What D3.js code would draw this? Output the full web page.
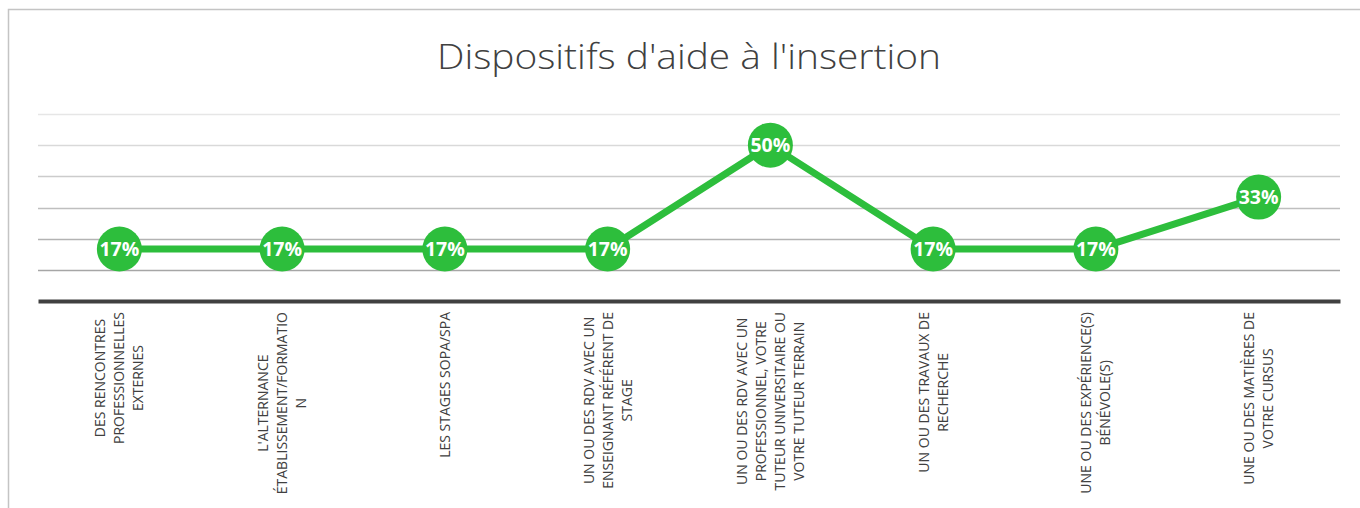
<!DOCTYPE html>
<html><head><meta charset="utf-8">
<script src="https://cdn.jsdelivr.net/npm/d3@7"></script>
<style>body{margin:0;background:#fff;}svg{display:block;font-family:"Open Sans",sans-serif;}</style>
</head><body>
<svg id="c" width="1360" height="508"></svg>
<script>
const title = "Dispositifs d'aide à l'insertion";
const categories = [
  "DES RENCONTRES\nPROFESSIONNELLES\nEXTERNES",
  "L'ALTERNANCE\nÉTABLISSEMENT/FORMATIO\nN",
  "LES STAGES SOPA/SPA",
  "UN OU DES RDV AVEC UN\nENSEIGNANT RÉFÉRENT DE\nSTAGE",
  "UN OU DES RDV AVEC UN\nPROFESSIONNEL, VOTRE\nTUTEUR UNIVERSITAIRE OU\nVOTRE TUTEUR TERRAIN",
  "UN OU DES TRAVAUX DE\nRECHERCHE",
  "UNE OU DES EXPÉRIENCE(S)\nBÉNÉVOLE(S)",
  "UNE OU DES MATIÈRES DE\nVOTRE CURSUS"
];
const values = [0.1667, 0.1667, 0.1667, 0.1667, 0.5, 0.1667, 0.1667, 0.3333];
const gridTicks = [0.1, 0.2, 0.3, 0.4, 0.5, 0.6];
const gridColors = ["#a6a6a6", "#b3b3b3", "#bfbfbf", "#cccccc", "#d9d9d9", "#e6e6e6"];

const svg = d3.select("#c");
const green = "#2dbe3c";

// chart frame
svg.append("path").attr("d", "M8.5,508 V9.5 H1360").attr("fill", "none").attr("stroke", "#c4c4c4").attr("stroke-width", 1.5);

svg.append("text").attr("x", 689).attr("y", 69).attr("text-anchor", "middle")
  .attr("font-size", 34).attr("font-weight", 300).attr("fill", "#404040")
  .attr("textLength", 504).attr("lengthAdjust", "spacingAndGlyphs").text(title);

const x = d3.scaleBand().domain(d3.range(categories.length)).range([38, 1340]);
const y = d3.scaleLinear().domain([0, 0.6]).range([301, 114]);

const grid = svg.append("g");
grid.selectAll("line").data(gridTicks).join("line")
  .attr("x1", 38).attr("x2", 1340)
  .attr("y1", d => Math.round(y(d)) + 0.5).attr("y2", d => Math.round(y(d)) + 0.5)
  .attr("stroke", (d, i) => gridColors[i]).attr("stroke-width", 1.5);

// baseline axis
const xAxis = d3.axisBottom(x).tickSize(0).tickFormat("");
const ax = svg.append("g").attr("transform", `translate(0,${y(0)})`).call(xAxis);
ax.select(".domain").attr("stroke", "#404040").attr("stroke-width", 4);

// category labels
const labG = svg.append("g").attr("font-size", 14).attr("fill", "#404040");
categories.forEach((c, i) => {
  const lines = c.split("\n");
  const cx = x(i) + x.bandwidth() / 2;
  const g = labG.append("g");
  const ts = lines.map((ln, j) => g.append("text").attr("text-anchor", "middle").text(ln));
  const maxLen = d3.max(ts, t => t.node().getComputedTextLength());
  const cy = 312 + maxLen / 2;
  const step = 19;
  ts.forEach((t, j) => {
    const lx = cx + (j - (lines.length - 1) / 2) * step;
    t.attr("transform", `translate(${lx},${cy}) rotate(-90)`).attr("dy", "0.35em");
  });
});

// line
const line = d3.line().x((d, i) => x(i) + x.bandwidth() / 2).y(d => y(d));
svg.append("path").datum(values).attr("d", line).attr("fill", "none")
  .attr("stroke", green).attr("stroke-width", 7).attr("stroke-linejoin", "round");

const pts = svg.append("g").selectAll("g").data(values).join("g")
  .attr("transform", (d, i) => `translate(${x(i) + x.bandwidth() / 2},${y(d)})`);
pts.append("circle").attr("r", 22.5).attr("fill", green);
pts.append("text").attr("text-anchor", "middle").attr("dy", "0.36em")
  .attr("font-size", 19.5).attr("font-weight", 700).attr("fill", "#fff")
  .text(d => d3.format(".0%")(d));
</script>
</body></html>
